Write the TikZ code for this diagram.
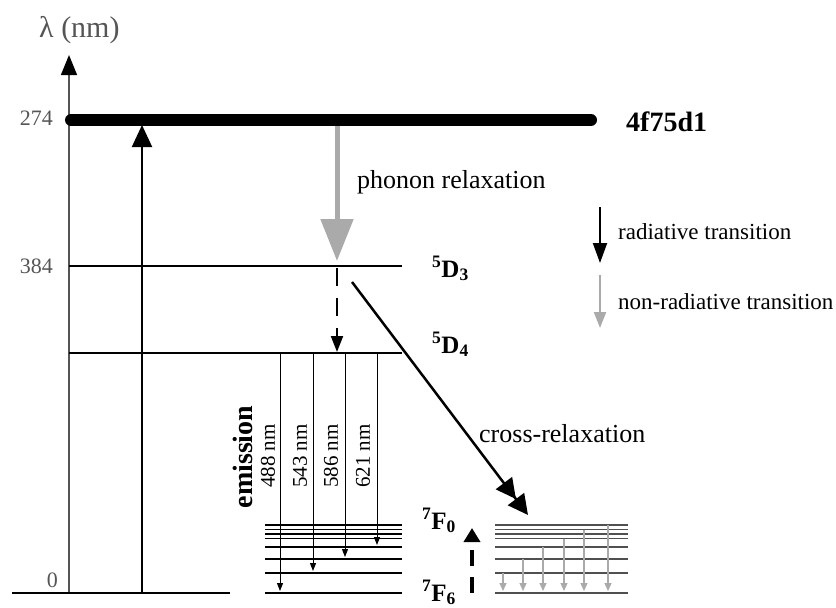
\documentclass[tikz,border=0pt]{standalone}
\usepackage{fontspec}
\setmainfont{Liberation Serif}
\usetikzlibrary{arrows.meta}
\definecolor{axisgray}{HTML}{555555}
\definecolor{lightg}{HTML}{AAAAAA}
\definecolor{mang}{HTML}{505050}
\begin{document}
\begin{tikzpicture}[x=1pt,y=-1pt,
  txt/.style={inner sep=0pt, font=\fontsize{26}{26}\selectfont},
  wl/.style={inner sep=0pt, font=\fontsize{21}{21}\selectfont},
  num/.style={inner sep=0pt, text=axisgray, font=\fontsize{22}{22}\selectfont},
  small/.style={inner sep=0pt, font=\fontsize{23}{23}\selectfont},
  big/.style={inner sep=0pt, font=\fontsize{28}{28}\selectfont\bfseries},
  term/.style={inner sep=0pt, font=\fontsize{25}{25}\selectfont\bfseries},
  lvl/.style={line width=1.5pt},
  emis/.style={line width=1pt, -{Triangle[length=8pt,width=6pt]}},
  nonrad/.style={lightg, line width=1.2pt, -{Triangle[length=8pt,width=7pt]}}]
\useasboundingbox (0,0) rectangle (836,608);

% axis
\coordinate (axb) at (69,593);
\coordinate (axt) at (69,55);
\draw[axisgray, line width=1.3pt, -{Triangle[length=20pt,width=16pt,black]}] (axb) -- (axt);
\node[num, anchor=base west, font=\fontsize{30}{30}\selectfont] (lam) at (39,37) {λ (nm)};
\node[num, anchor=base east] (t274) at (53,125) {274};
\node[num, anchor=base east] (t384) at (53,273) {384};
\node[num, anchor=base east] (t0) at (58,587) {0};

% levels
\coordinate (b0) at (12,593); \coordinate (b1) at (230,593);
\draw[lvl] (b0) -- (b1);
\coordinate (e0) at (71,120); \coordinate (e1) at (591,120);
\draw[line width=12pt, line cap=round] (e0) -- (e1);
\coordinate (d30) at (69,266); \coordinate (d31) at (402,266);
\draw[lvl] (d30) -- (d31);
\coordinate (d40) at (69,353); \coordinate (d41) at (402,353);
\draw[lvl] (d40) -- (d41);

\node[big, anchor=base west] (n4f) at (626,131) {4f75d1};
\node[term, anchor=base west] (nd3) at (432,277) {\textsuperscript{5}D\textsubscript{3}};
\node[term, anchor=base west] (nd4) at (432,353) {\textsuperscript{5}D\textsubscript{4}};

% excitation
\coordinate (x0) at (142,593); \coordinate (x1) at (142,125);
\draw[line width=2pt, -{Triangle[length=22pt,width=20pt]}] (x0) -- (x1);

% phonon relaxation
\coordinate (p0) at (337,126); \coordinate (p1) at (337,261);
\draw[lightg, line width=5pt, -{Triangle[length=42pt,width=32pt]}] (p0) -- (p1);
\node[txt, anchor=base west] (nph) at (357,188) {phonon relaxation};

% dashed D3 -> D4
\coordinate (q0) at (337,268); \coordinate (q1) at (337,352);
\draw[line width=2pt, dash pattern=on 18pt off 12pt, -{Triangle[length=16pt,width=12pt]}] (q0) -- (q1);

% cross relaxation
\coordinate (c0) at (352,282); \coordinate (c1) at (528,515);
\draw[line width=2.5pt, -{Triangle[length=20pt,width=20pt] Triangle[length=20pt,width=20pt]}] (c0) -- (c1);
\node[txt, anchor=base west] (ncr) at (479,442) {cross-relaxation};

% legend
\coordinate (lr0) at (600,207); \coordinate (lr1) at (600,263);
\draw[line width=2pt, -{Triangle[length=20pt,width=14pt]}] (lr0) -- (lr1);
\node[small, anchor=base west] (nrad) at (618,239) {radiative transition};
\coordinate (ln0) at (600,275); \coordinate (ln1) at (600,328);
\draw[lightg, line width=2pt, -{Triangle[length=16pt,width=12pt]}] (ln0) -- (ln1);
\node[small, anchor=base west] (nnrad) at (618,309) {non-radiative transition};

% lower manifold (left)
\foreach \yy [count=\i] in {525,529.5,534,538.5,547,559,573,593}{
  \coordinate (L\i a) at (265,\yy); \coordinate (L\i b) at (402,\yy);
  \draw[lvl] (L\i a) -- (L\i b);
}
% emission arrows
\coordinate (m1) at (280,353); \coordinate (m1e) at (280,591);
\coordinate (m2) at (313,353); \coordinate (m2e) at (313,571);
\coordinate (m3) at (345,353); \coordinate (m3e) at (345,557);
\coordinate (m4) at (377,353); \coordinate (m4e) at (377,545);
\draw[emis] (m1) -- (m1e);
\draw[emis] (m2) -- (m2e);
\draw[emis] (m3) -- (m3e);
\draw[emis] (m4) -- (m4e);
\node[big, rotate=90] (nem) at (243,457) {emission};
\node[wl, rotate=90] (w1) at (268,456) {488 nm};
\node[wl, rotate=90] (w2) at (300,456) {543 nm};
\node[wl, rotate=90] (w3) at (331,456) {586 nm};
\node[wl, rotate=90] (w4) at (363,456) {621 nm};

% 7F labels and dashed up arrow
\node[term, anchor=base west] (nf0) at (422,529) {\textsuperscript{7}F\textsubscript{0}};
\node[term, anchor=base west] (nf6) at (422,601) {\textsuperscript{7}F\textsubscript{6}};
\coordinate (u0) at (472,593); \coordinate (u1) at (472,528);
\draw[line width=4pt, dash pattern=on 16pt off 11pt, -{Triangle[length=14pt,width=16pt]}] (u0) -- (u1);

% lower manifold (right)
\foreach \yy [count=\i] in {525,529.5,534,538.5,547,559,573,593}{
  \coordinate (R\i a) at (495,\yy); \coordinate (R\i b) at (628,\yy);
  \draw[mang, line width=1.5pt] (R\i a) -- (R\i b);
}
\foreach \xx/\ys in {503/573,523/559,543/547,564/538.5,584/529.5,608/525}{
  \draw[nonrad] (\xx,\ys) -- (\xx,591);
}
\end{tikzpicture}
\end{document}
